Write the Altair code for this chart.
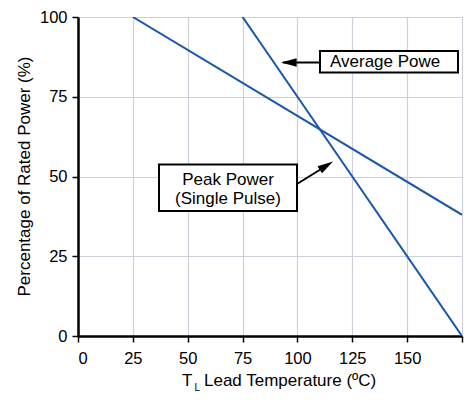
import altair as alt
import pandas as pd

# Data
avg_temp = [75, 175]
avg_pct = [100, 0]
peak_temp = [25, 175]
peak_pct = [100, 38]

x_ticks = [0, 25, 50, 75, 100, 125, 150, 175]
y_ticks = [0, 25, 50, 75, 100]

FONT = "Liberation Sans"
BLUE = "#1b57a8"
W, H = 384, 319

lines_df = pd.DataFrame({
    "temp": avg_temp + peak_temp,
    "pct": avg_pct + peak_pct,
    "series": ["Average Power"] * len(avg_temp) + ["Peak Power"] * len(peak_temp),
})

xscale = alt.Scale(domain=[0, 175], nice=False, zero=False)
yscale = alt.Scale(domain=[0, 100], nice=False)

lines = alt.Chart(lines_df).mark_line(color=BLUE, strokeWidth=2, clip=True).encode(
    x=alt.X("temp:Q", scale=xscale, axis=alt.Axis(
        values=x_ticks, title=None,
        labelExpr="datum.value == 175 ? '' : datum.label",
        grid=True, gridColor="#cdd0d8", gridWidth=1.2,
        domainColor="black", domainWidth=2.5,
        tickColor="black", tickSize=6, tickWidth=1.5,
        labelFont=FONT, labelFontSize=16.5, labelColor="black", labelPadding=8,
    )),
    y=alt.Y("pct:Q", scale=yscale, axis=alt.Axis(
        values=y_ticks, title=None,
        grid=True, gridColor="#cdd0d8", gridWidth=1.2,
        domainColor="black", domainWidth=2.5,
        tickColor="black", tickSize=6, tickWidth=1.5,
        labelFont=FONT, labelFontSize=16.5, labelColor="black", labelPadding=5,
    )),
    detail="series:N",
)

layers = [lines]

# annotation helpers (pixel positions within the plot area)
def box(x1, x2, y1, y2):
    return alt.Chart().mark_rect(fill="white", stroke="black", strokeWidth=2).encode(
        x=alt.value(x1), x2=alt.value(x2), y=alt.value(y1), y2=alt.value(y2))

def rule(x1, y1, x2, y2):
    return alt.Chart().mark_rule(color="black", strokeWidth=2).encode(
        x=alt.value(x1), x2=alt.value(x2), y=alt.value(y1), y2=alt.value(y2))

def head(x, y, angle):
    return alt.Chart().mark_point(
        shape="M0,0L-2.6,-0.7L-2.6,0.7Z", filled=True, color="black",
        size=144, angle=angle, opacity=1, strokeWidth=0,
    ).encode(x=alt.value(x), y=alt.value(y))

def label(txt, x, y, size=17, align="left", baseline="alphabetic", angle=0):
    return alt.Chart().mark_text(
        text=txt, font=FONT, fontSize=size, color="black",
        align=align, baseline=baseline, angle=angle,
    ).encode(x=alt.value(x), y=alt.value(y))

# Average power callout
layers += [
    rule(242, 45.5, 205, 45.5),
    head(203, 45.5, 180),
    box(242, 380, 34, 55.5),
    label("Average Powe", 252, 49.5),
]
# Peak power callout
layers += [
    rule(219, 167, 248, 149),
    head(255, 144.5, 328),
    box(81, 219, 147.5, 194),
    label("Peak Power", 150, 167.5, align="center"),
    label("(Single Pulse)", 150, 186.5, align="center"),
]
# axis titles
layers += [
    label("T", 104, 369),
    label("L", 116.5, 374, size=10),
    label("Lead Temperature (ºC)", 126, 369),
    label("Percentage of Rated Power (%)", -53, 159.5, align="center",
          baseline="middle", angle=270),
]

chart = alt.layer(*layers).properties(
    width=W, height=H,
    autosize=alt.AutoSizeParams(type="none"),
    padding={"left": 70, "top": 9, "right": 2, "bottom": 56},
).configure_view(stroke="black", strokeWidth=2.5).configure(background="white")

chart.save("out.html", embed_options={"renderer": "svg", "actions": False})
